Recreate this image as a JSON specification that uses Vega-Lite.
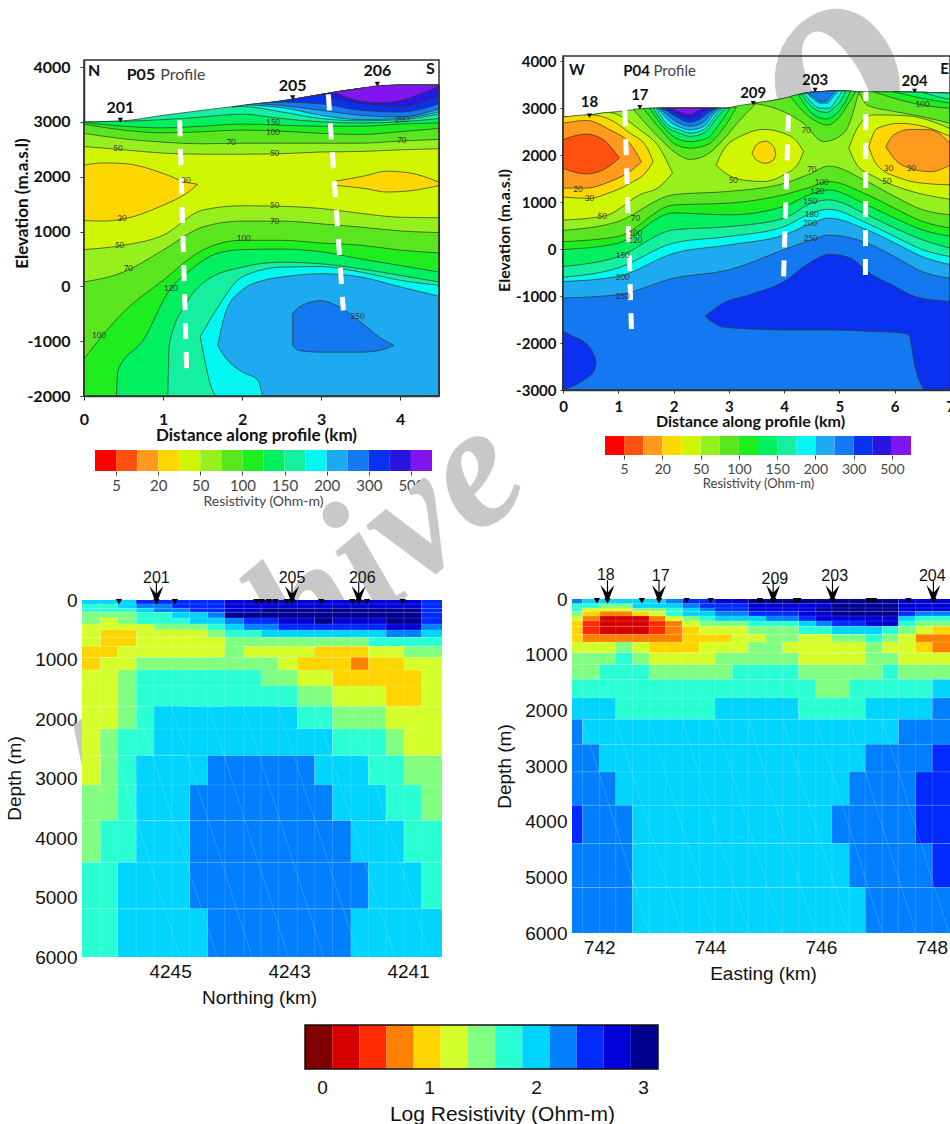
{"$schema":"https://vega.github.io/schema/vega-lite/v6.json","width":950,"height":1124,"autosize":{"type":"none"},"padding":0,"background":"white","config":{"view":{"stroke":null},"axis":{"grid":false,"zindex":1,"labelFlush":false,"labelOverlap":false}},
"datasets":{
"tl":[
{"s":1,"b":180,"x":0,"y":3000,"z":-2000},{"s":1,"b":180,"x":0.5,"y":3020,"z":-2000},{"s":1,"b":180,"x":1,"y":3120,"z":-2000},{"s":1,"b":180,"x":1.5,"y":3210,"z":-2000},{"s":1,"b":180,"x":2,"y":3300,"z":-2000},{"s":1,"b":180,"x":2.5,"y":3380,"z":-2000},{"s":1,"b":180,"x":3,"y":3500,"z":-2000},{"s":1,"b":180,"x":3.5,"y":3610,"z":-2000},{"s":1,"b":180,"x":4,"y":3670,"z":-2000},{"s":1,"b":180,"x":4.49,"y":3670,"z":-2000},
{"s":2,"b":200,"x":1.88,"y":3270,"z":3270},{"s":2,"b":200,"x":2,"y":3300,"z":3280},{"s":2,"b":200,"x":2.5,"y":3380,"z":3180},{"s":2,"b":200,"x":3,"y":3500,"z":3060},{"s":2,"b":200,"x":3.5,"y":3610,"z":3020},{"s":2,"b":200,"x":4,"y":3670,"z":3040},{"s":2,"b":200,"x":4.49,"y":3670,"z":3140},
{"s":3,"b":250,"x":2.05,"y":3310,"z":3310},{"s":3,"b":250,"x":2.5,"y":3380,"z":3260},{"s":3,"b":250,"x":3,"y":3500,"z":3120},{"s":3,"b":250,"x":3.5,"y":3610,"z":3040},{"s":3,"b":250,"x":4,"y":3670,"z":3060},{"s":3,"b":250,"x":4.49,"y":3670,"z":3180},
{"s":4,"b":300,"x":2.2,"y":3330,"z":3330},{"s":4,"b":300,"x":2.5,"y":3380,"z":3300},{"s":4,"b":300,"x":3,"y":3500,"z":3210},{"s":4,"b":300,"x":3.5,"y":3610,"z":3120},{"s":4,"b":300,"x":4,"y":3670,"z":3090},{"s":4,"b":300,"x":4.49,"y":3670,"z":3240},
{"s":5,"b":400,"x":2.4,"y":3360,"z":3360},{"s":5,"b":400,"x":2.5,"y":3380,"z":3360},{"s":5,"b":400,"x":3,"y":3500,"z":3330},{"s":5,"b":400,"x":3.5,"y":3610,"z":3210},{"s":5,"b":400,"x":4,"y":3670,"z":3180},{"s":5,"b":400,"x":4.49,"y":3670,"z":3330},
{"s":6,"b":500,"x":3,"y":3500,"z":3500},{"s":6,"b":500,"x":3.5,"y":3610,"z":3330},{"s":6,"b":500,"x":4,"y":3670,"z":3280},{"s":6,"b":500,"x":4.49,"y":3670,"z":3480},
{"s":7,"b":700,"x":3.15,"y":3540,"z":3540},{"s":7,"b":700,"x":3.5,"y":3610,"z":3380},{"s":7,"b":700,"x":3.75,"y":3665,"z":3350},{"s":7,"b":700,"x":4,"y":3670,"z":3390},{"s":7,"b":700,"x":4.25,"y":3670,"z":3510},{"s":7,"b":700,"x":4.49,"y":3670,"z":3650},
{"s":8,"b":150,"x":0,"y":3000,"z":-2000},{"s":8,"b":150,"x":0.5,"y":3010,"z":-2000},{"s":8,"b":150,"x":1,"y":3040,"z":-2000},{"s":8,"b":150,"x":1.5,"y":3090,"z":-2000},{"s":8,"b":150,"x":2,"y":3140,"z":-2000},{"s":8,"b":150,"x":2.5,"y":3060,"z":-2000},{"s":8,"b":150,"x":3,"y":3000,"z":-2000},{"s":8,"b":150,"x":3.5,"y":2980,"z":-2000},{"s":8,"b":150,"x":4,"y":3000,"z":-2000},{"s":8,"b":150,"x":4.49,"y":3060,"z":-2000},
{"s":9,"b":120,"x":0,"y":2990,"z":-2000},{"s":9,"b":120,"x":0.5,"y":2920,"z":-2000},{"s":9,"b":120,"x":1,"y":2890,"z":-2000},{"s":9,"b":120,"x":1.5,"y":2920,"z":-2000},{"s":9,"b":120,"x":2,"y":2960,"z":-2000},{"s":9,"b":120,"x":2.5,"y":2940,"z":-2000},{"s":9,"b":120,"x":3,"y":2920,"z":-2000},{"s":9,"b":120,"x":3.5,"y":2920,"z":-2000},{"s":9,"b":120,"x":4,"y":2960,"z":-2000},{"s":9,"b":120,"x":4.49,"y":2980,"z":-2000},
{"s":10,"b":100,"x":0,"y":2960,"z":-2000},{"s":10,"b":100,"x":0.5,"y":2850,"z":-2000},{"s":10,"b":100,"x":1,"y":2800,"z":-2000},{"s":10,"b":100,"x":1.5,"y":2820,"z":-2000},{"s":10,"b":100,"x":2,"y":2850,"z":-2000},{"s":10,"b":100,"x":2.5,"y":2830,"z":-2000},{"s":10,"b":100,"x":3,"y":2790,"z":-2000},{"s":10,"b":100,"x":3.5,"y":2770,"z":-2000},{"s":10,"b":100,"x":4,"y":2820,"z":-2000},{"s":10,"b":100,"x":4.49,"y":2880,"z":-2000},
{"s":11,"b":70,"x":0,"y":2790,"z":-2000},{"s":11,"b":70,"x":0.5,"y":2690,"z":-2000},{"s":11,"b":70,"x":1,"y":2630,"z":-2000},{"s":11,"b":70,"x":1.5,"y":2600,"z":-2000},{"s":11,"b":70,"x":2,"y":2610,"z":-2000},{"s":11,"b":70,"x":2.5,"y":2610,"z":-2000},{"s":11,"b":70,"x":3,"y":2610,"z":-2000},{"s":11,"b":70,"x":3.5,"y":2610,"z":-2000},{"s":11,"b":70,"x":4,"y":2650,"z":-2000},{"s":11,"b":70,"x":4.49,"y":2680,"z":-2000},
{"s":12,"b":50,"x":0,"y":2550,"z":-2000},{"s":12,"b":50,"x":0.5,"y":2490,"z":-2000},{"s":12,"b":50,"x":1,"y":2430,"z":-2000},{"s":12,"b":50,"x":1.5,"y":2410,"z":-2000},{"s":12,"b":50,"x":2,"y":2410,"z":-2000},{"s":12,"b":50,"x":2.5,"y":2420,"z":-2000},{"s":12,"b":50,"x":3,"y":2450,"z":-2000},{"s":12,"b":50,"x":3.5,"y":2460,"z":-2000},{"s":12,"b":50,"x":4,"y":2490,"z":-2000},{"s":12,"b":50,"x":4.49,"y":2510,"z":-2000},
{"s":13,"b":30,"x":0,"y":2210,"z":1200},{"s":13,"b":30,"x":0.24,"y":2250,"z":1190},{"s":13,"b":30,"x":0.5,"y":2240,"z":1230},{"s":13,"b":30,"x":1,"y":2060,"z":1480},{"s":13,"b":30,"x":1.29,"y":1900,"z":1690},{"s":13,"b":30,"x":1.44,"y":1860,"z":1860},
{"s":14,"b":30,"x":3.19,"y":1920,"z":1840},{"s":14,"b":30,"x":3.57,"y":2020,"z":1780},{"s":14,"b":30,"x":3.82,"y":2100,"z":1720},{"s":14,"b":30,"x":4.11,"y":2070,"z":1740},{"s":14,"b":30,"x":4.49,"y":1900,"z":1840},
{"s":15,"b":70,"x":0,"y":670,"z":-2000},{"s":15,"b":70,"x":0.5,"y":750,"z":-2000},{"s":15,"b":70,"x":1,"y":930,"z":-2000},{"s":15,"b":70,"x":1.5,"y":1390,"z":-2000},{"s":15,"b":70,"x":2,"y":1470,"z":-2000},{"s":15,"b":70,"x":2.5,"y":1460,"z":-2000},{"s":15,"b":70,"x":3,"y":1420,"z":-2000},{"s":15,"b":70,"x":3.5,"y":1330,"z":-2000},{"s":15,"b":70,"x":4,"y":1260,"z":-2000},{"s":15,"b":70,"x":4.49,"y":1250,"z":-2000},
{"s":16,"b":100,"x":0,"y":80,"z":-2000},{"s":16,"b":100,"x":0.5,"y":260,"z":-2000},{"s":16,"b":100,"x":1,"y":660,"z":-2000},{"s":16,"b":100,"x":1.5,"y":1080,"z":-2000},{"s":16,"b":100,"x":2,"y":1190,"z":-2000},{"s":16,"b":100,"x":2.5,"y":1190,"z":-2000},{"s":16,"b":100,"x":3,"y":1140,"z":-2000},{"s":16,"b":100,"x":3.5,"y":1080,"z":-2000},{"s":16,"b":100,"x":4,"y":1010,"z":-2000},{"s":16,"b":100,"x":4.49,"y":980,"z":-2000},
{"s":17,"b":120,"x":0,"y":-1320,"z":-2000},{"s":17,"b":120,"x":0.5,"y":-470,"z":-2000},{"s":17,"b":120,"x":1,"y":110,"z":-2000},{"s":17,"b":120,"x":1.5,"y":660,"z":-2000},{"s":17,"b":120,"x":2,"y":840,"z":-2000},{"s":17,"b":120,"x":2.5,"y":840,"z":-2000},{"s":17,"b":120,"x":3,"y":790,"z":-2000},{"s":17,"b":120,"x":3.5,"y":750,"z":-2000},{"s":17,"b":120,"x":4,"y":660,"z":-2000},{"s":17,"b":120,"x":4.49,"y":610,"z":-2000},
{"s":18,"b":150,"x":0.41,"y":-2000,"z":-2000},{"s":18,"b":150,"x":0.43,"y":-1530,"z":-2000},{"s":18,"b":150,"x":0.75,"y":-980,"z":-2000},{"s":18,"b":150,"x":1.08,"y":-70,"z":-2000},{"s":18,"b":150,"x":1.34,"y":290,"z":-2000},{"s":18,"b":150,"x":1.68,"y":600,"z":-2000},{"s":18,"b":150,"x":2,"y":670,"z":-2000},{"s":18,"b":150,"x":2.5,"y":680,"z":-2000},{"s":18,"b":150,"x":3,"y":630,"z":-2000},{"s":18,"b":150,"x":3.5,"y":500,"z":-2000},{"s":18,"b":150,"x":4,"y":380,"z":-2000},{"s":18,"b":150,"x":4.49,"y":260,"z":-2000},
{"s":19,"b":180,"x":1.06,"y":-2000,"z":-2000},{"s":19,"b":180,"x":1.08,"y":-1050,"z":-2000},{"s":19,"b":180,"x":1.29,"y":-320,"z":-2000},{"s":19,"b":180,"x":1.55,"y":110,"z":-2000},{"s":19,"b":180,"x":2,"y":350,"z":-2000},{"s":19,"b":180,"x":2.5,"y":440,"z":-2000},{"s":19,"b":180,"x":3,"y":410,"z":-2000},{"s":19,"b":180,"x":3.5,"y":320,"z":-2000},{"s":19,"b":180,"x":4,"y":200,"z":-2000},{"s":19,"b":180,"x":4.49,"y":80,"z":-2000},
{"s":20,"b":200,"x":1.47,"y":-920,"z":-920},{"s":20,"b":200,"x":1.68,"y":-410,"z":-2000},{"s":20,"b":200,"x":2,"y":170,"z":-2000},{"s":20,"b":200,"x":2.5,"y":350,"z":-2000},{"s":20,"b":200,"x":3,"y":360,"z":-2000},{"s":20,"b":200,"x":3.5,"y":260,"z":-2000},{"s":20,"b":200,"x":4,"y":110,"z":-2000},{"s":20,"b":200,"x":4.49,"y":20,"z":-2000},
{"s":21,"b":250,"x":1.69,"y":-1080,"z":-1080},{"s":21,"b":250,"x":1.8,"y":-440,"z":-1320},{"s":21,"b":250,"x":2,"y":-70,"z":-1560},{"s":21,"b":250,"x":2.2,"y":80,"z":-1710},{"s":21,"b":250,"x":2.27,"y":110,"z":-2000},{"s":21,"b":250,"x":2.5,"y":170,"z":-2000},{"s":21,"b":250,"x":3,"y":230,"z":-2000},{"s":21,"b":250,"x":3.5,"y":170,"z":-2000},{"s":21,"b":250,"x":4,"y":-10,"z":-2000},{"s":21,"b":250,"x":4.49,"y":-180,"z":-2000},
{"s":22,"b":300,"x":2.64,"y":-500,"z":-1080},{"s":22,"b":300,"x":2.72,"y":-380,"z":-1170},{"s":22,"b":300,"x":3,"y":-260,"z":-1200},{"s":22,"b":300,"x":3.15,"y":-320,"z":-1200},{"s":22,"b":300,"x":3.5,"y":-650,"z":-1200},{"s":22,"b":300,"x":3.73,"y":-920,"z":-1170},{"s":22,"b":300,"x":3.92,"y":-1080,"z":-1080}
],
"tr":[
{"s":1,"b":70,"x":0,"y":2810,"z":-3000},{"s":1,"b":70,"x":0.48,"y":2860,"z":-3000},{"s":1,"b":70,"x":0.81,"y":2910,"z":-3000},{"s":1,"b":70,"x":0.99,"y":2930,"z":-3000},{"s":1,"b":70,"x":1.39,"y":2980,"z":-3000},{"s":1,"b":70,"x":1.99,"y":3000,"z":-3000},{"s":1,"b":70,"x":2.98,"y":3000,"z":-3000},{"s":1,"b":70,"x":3.5,"y":3110,"z":-3000},{"s":1,"b":70,"x":3.99,"y":3210,"z":-3000},{"s":1,"b":70,"x":4.41,"y":3330,"z":-3000},{"s":1,"b":70,"x":4.98,"y":3370,"z":-3000},{"s":1,"b":70,"x":5.5,"y":3350,"z":-3000},{"s":1,"b":70,"x":6,"y":3350,"z":-3000},{"s":1,"b":70,"x":7,"y":3320,"z":-3000},
{"s":2,"b":100,"x":0,"y":400,"z":-3000},{"s":2,"b":100,"x":1,"y":590,"z":-3000},{"s":2,"b":100,"x":2,"y":1160,"z":-3000},{"s":2,"b":100,"x":3,"y":1230,"z":-3000},{"s":2,"b":100,"x":4,"y":1400,"z":-3000},{"s":2,"b":100,"x":4.5,"y":1620,"z":-3000},{"s":2,"b":100,"x":4.8,"y":1770,"z":-3000},{"s":2,"b":100,"x":5.5,"y":1440,"z":-3000},{"s":2,"b":100,"x":6,"y":1120,"z":-3000},{"s":2,"b":100,"x":6.5,"y":840,"z":-3000},{"s":2,"b":100,"x":7,"y":730,"z":-3000},
{"s":3,"b":120,"x":0,"y":160,"z":-3000},{"s":3,"b":120,"x":1,"y":270,"z":-3000},{"s":3,"b":120,"x":2,"y":940,"z":-3000},{"s":3,"b":120,"x":3,"y":980,"z":-3000},{"s":3,"b":120,"x":4,"y":1160,"z":-3000},{"s":3,"b":120,"x":4.5,"y":1330,"z":-3000},{"s":3,"b":120,"x":4.8,"y":1440,"z":-3000},{"s":3,"b":120,"x":5.5,"y":1160,"z":-3000},{"s":3,"b":120,"x":6,"y":870,"z":-3000},{"s":3,"b":120,"x":6.5,"y":590,"z":-3000},{"s":3,"b":120,"x":7,"y":450,"z":-3000},
{"s":4,"b":150,"x":0,"y":-10,"z":-3000},{"s":4,"b":150,"x":1,"y":130,"z":-3000},{"s":4,"b":150,"x":2,"y":770,"z":-3000},{"s":4,"b":150,"x":3,"y":730,"z":-3000},{"s":4,"b":150,"x":4,"y":910,"z":-3000},{"s":4,"b":150,"x":4.5,"y":1180,"z":-3000},{"s":4,"b":150,"x":4.8,"y":1260,"z":-3000},{"s":4,"b":150,"x":5.5,"y":940,"z":-3000},{"s":4,"b":150,"x":6,"y":660,"z":-3000},{"s":4,"b":150,"x":6.5,"y":410,"z":-3000},{"s":4,"b":150,"x":7,"y":270,"z":-3000},
{"s":5,"b":180,"x":0,"y":-370,"z":-3000},{"s":5,"b":180,"x":1,"y":-160,"z":-3000},{"s":5,"b":180,"x":2,"y":410,"z":-3000},{"s":5,"b":180,"x":3,"y":480,"z":-3000},{"s":5,"b":180,"x":4,"y":660,"z":-3000},{"s":5,"b":180,"x":4.5,"y":980,"z":-3000},{"s":5,"b":180,"x":4.8,"y":1050,"z":-3000},{"s":5,"b":180,"x":5.5,"y":730,"z":-3000},{"s":5,"b":180,"x":6,"y":450,"z":-3000},{"s":5,"b":180,"x":6.5,"y":200,"z":-3000},{"s":5,"b":180,"x":7,"y":20,"z":-3000},
{"s":6,"b":200,"x":0,"y":-600,"z":-3000},{"s":6,"b":200,"x":1,"y":-400,"z":-3000},{"s":6,"b":200,"x":2,"y":130,"z":-3000},{"s":6,"b":200,"x":3,"y":270,"z":-3000},{"s":6,"b":200,"x":4,"y":480,"z":-3000},{"s":6,"b":200,"x":4.5,"y":770,"z":-3000},{"s":6,"b":200,"x":4.8,"y":850,"z":-3000},{"s":6,"b":200,"x":5.5,"y":550,"z":-3000},{"s":6,"b":200,"x":6,"y":270,"z":-3000},{"s":6,"b":200,"x":6.5,"y":-10,"z":-3000},{"s":6,"b":200,"x":7,"y":-160,"z":-3000},
{"s":7,"b":250,"x":0,"y":-690,"z":-3000},{"s":7,"b":250,"x":1,"y":-580,"z":-3000},{"s":7,"b":250,"x":2,"y":-90,"z":-3000},{"s":7,"b":250,"x":3,"y":90,"z":-3000},{"s":7,"b":250,"x":4,"y":300,"z":-3000},{"s":7,"b":250,"x":4.5,"y":550,"z":-3000},{"s":7,"b":250,"x":4.8,"y":660,"z":-3000},{"s":7,"b":250,"x":5.5,"y":410,"z":-3000},{"s":7,"b":250,"x":6,"y":130,"z":-3000},{"s":7,"b":250,"x":6.5,"y":-160,"z":-3000},{"s":7,"b":250,"x":7,"y":-330,"z":-3000},
{"s":8,"b":300,"x":0,"y":-1040,"z":-3000},{"s":8,"b":300,"x":1,"y":-970,"z":-3000},{"s":8,"b":300,"x":2,"y":-620,"z":-3000},{"s":8,"b":300,"x":3,"y":-440,"z":-3000},{"s":8,"b":300,"x":4,"y":-10,"z":-3000},{"s":8,"b":300,"x":4.5,"y":200,"z":-3000},{"s":8,"b":300,"x":4.8,"y":300,"z":-3000},{"s":8,"b":300,"x":5.5,"y":130,"z":-3000},{"s":8,"b":300,"x":6,"y":-160,"z":-3000},{"s":8,"b":300,"x":6.5,"y":-480,"z":-3000},{"s":8,"b":300,"x":7,"y":-620,"z":-3000},
{"s":9,"b":400,"x":2.57,"y":-1430,"z":-1430},{"s":9,"b":400,"x":2.9,"y":-1150,"z":-1660},{"s":9,"b":400,"x":3.38,"y":-970,"z":-1700},{"s":9,"b":400,"x":4,"y":-690,"z":-1720},{"s":9,"b":400,"x":4.5,"y":-260,"z":-1720},{"s":9,"b":400,"x":4.83,"y":-110,"z":-1720},{"s":9,"b":400,"x":5.2,"y":-190,"z":-1730},{"s":9,"b":400,"x":5.5,"y":-480,"z":-1750},{"s":9,"b":400,"x":6,"y":-790,"z":-1770},{"s":9,"b":400,"x":6.25,"y":-950,"z":-1820},{"s":9,"b":400,"x":6.37,"y":-1010,"z":-2500},{"s":9,"b":400,"x":6.56,"y":-1060,"z":-3000},{"s":9,"b":400,"x":7,"y":-1110,"z":-3000},
{"s":10,"b":400,"x":0,"y":-1750,"z":-3000},{"s":10,"b":400,"x":0.18,"y":-1860,"z":-2920},{"s":10,"b":400,"x":0.36,"y":-1960,"z":-2800},{"s":10,"b":400,"x":0.57,"y":-2280,"z":-2570},{"s":10,"b":400,"x":0.6,"y":-2420,"z":-2420},
{"s":11,"b":100,"x":1.27,"y":2980,"z":2980},{"s":11,"b":100,"x":1.69,"y":3000,"z":2430},{"s":11,"b":100,"x":2.05,"y":3000,"z":2040},{"s":11,"b":100,"x":2.3,"y":3000,"z":1910},{"s":11,"b":100,"x":2.6,"y":3000,"z":2010},{"s":11,"b":100,"x":2.9,"y":3000,"z":2330},{"s":11,"b":100,"x":3.2,"y":3060,"z":2750},{"s":11,"b":100,"x":3.5,"y":3110,"z":3110},
{"s":12,"b":120,"x":1.45,"y":3000,"z":3000},{"s":12,"b":120,"x":1.75,"y":3000,"z":2570},{"s":12,"b":120,"x":2.05,"y":3000,"z":2220},{"s":12,"b":120,"x":2.3,"y":3000,"z":2150},{"s":12,"b":120,"x":2.6,"y":3000,"z":2220},{"s":12,"b":120,"x":2.9,"y":3000,"z":2570},{"s":12,"b":120,"x":3.14,"y":3030,"z":3030},
{"s":13,"b":150,"x":1.57,"y":3000,"z":3000},{"s":13,"b":150,"x":1.81,"y":3000,"z":2610},{"s":13,"b":150,"x":2.05,"y":3000,"z":2360},{"s":13,"b":150,"x":2.3,"y":3000,"z":2290},{"s":13,"b":150,"x":2.6,"y":3000,"z":2360},{"s":13,"b":150,"x":2.84,"y":3000,"z":2680},{"s":13,"b":150,"x":3.02,"y":3000,"z":3000},
{"s":14,"b":180,"x":1.63,"y":3000,"z":3000},{"s":14,"b":180,"x":1.87,"y":3000,"z":2610},{"s":14,"b":180,"x":2.11,"y":3000,"z":2470},{"s":14,"b":180,"x":2.3,"y":3000,"z":2400},{"s":14,"b":180,"x":2.54,"y":3000,"z":2470},{"s":14,"b":180,"x":2.78,"y":3000,"z":2790},{"s":14,"b":180,"x":2.93,"y":3000,"z":3000},
{"s":15,"b":200,"x":1.69,"y":3000,"z":3000},{"s":15,"b":200,"x":1.9,"y":3000,"z":2640},{"s":15,"b":200,"x":2.11,"y":3000,"z":2540},{"s":15,"b":200,"x":2.3,"y":3000,"z":2470},{"s":15,"b":200,"x":2.54,"y":3000,"z":2540},{"s":15,"b":200,"x":2.75,"y":3000,"z":2820},{"s":15,"b":200,"x":2.87,"y":3000,"z":3000},
{"s":16,"b":250,"x":1.72,"y":3000,"z":3000},{"s":16,"b":250,"x":1.93,"y":3000,"z":2720},{"s":16,"b":250,"x":2.11,"y":3000,"z":2600},{"s":16,"b":250,"x":2.3,"y":3000,"z":2540},{"s":16,"b":250,"x":2.54,"y":3000,"z":2610},{"s":16,"b":250,"x":2.72,"y":3000,"z":2860},{"s":16,"b":250,"x":2.84,"y":3000,"z":3000},
{"s":17,"b":300,"x":1.75,"y":3000,"z":3000},{"s":17,"b":300,"x":1.96,"y":3000,"z":2790},{"s":17,"b":300,"x":2.11,"y":3000,"z":2680},{"s":17,"b":300,"x":2.3,"y":3000,"z":2620},{"s":17,"b":300,"x":2.51,"y":3000,"z":2680},{"s":17,"b":300,"x":2.69,"y":3000,"z":2890},{"s":17,"b":300,"x":2.81,"y":3000,"z":3000},
{"s":18,"b":400,"x":1.78,"y":3000,"z":3000},{"s":18,"b":400,"x":1.99,"y":3000,"z":2860},{"s":18,"b":400,"x":2.15,"y":3000,"z":2750},{"s":18,"b":400,"x":2.3,"y":3000,"z":2700},{"s":18,"b":400,"x":2.48,"y":3000,"z":2770},{"s":18,"b":400,"x":2.66,"y":3000,"z":2930},{"s":18,"b":400,"x":2.78,"y":3000,"z":3000},
{"s":19,"b":500,"x":1.87,"y":3000,"z":3000},{"s":19,"b":500,"x":2.05,"y":3000,"z":2880},{"s":19,"b":500,"x":2.3,"y":3000,"z":2790},{"s":19,"b":500,"x":2.45,"y":3000,"z":2840},{"s":19,"b":500,"x":2.6,"y":3000,"z":2960},{"s":19,"b":500,"x":2.72,"y":3000,"z":3000},
{"s":20,"b":700,"x":1.96,"y":3000,"z":3000},{"s":20,"b":700,"x":2.08,"y":3000,"z":2930},{"s":20,"b":700,"x":2.3,"y":3000,"z":2860},{"s":20,"b":700,"x":2.42,"y":3000,"z":2930},{"s":20,"b":700,"x":2.54,"y":3000,"z":3000},
{"s":21,"b":100,"x":3.44,"y":3110,"z":3110},{"s":21,"b":100,"x":3.99,"y":3210,"z":2930},{"s":21,"b":100,"x":4.35,"y":3320,"z":2680},{"s":21,"b":100,"x":4.71,"y":3360,"z":2290},{"s":21,"b":100,"x":5.08,"y":3370,"z":2470},{"s":21,"b":100,"x":5.35,"y":3350,"z":3350},
{"s":22,"b":120,"x":4.11,"y":3250,"z":3250},{"s":22,"b":120,"x":4.41,"y":3330,"z":2860},{"s":22,"b":120,"x":4.65,"y":3350,"z":2680},{"s":22,"b":120,"x":4.77,"y":3360,"z":2640},{"s":22,"b":120,"x":4.95,"y":3370,"z":2750},{"s":22,"b":120,"x":5.17,"y":3370,"z":3110},{"s":22,"b":120,"x":5.29,"y":3350,"z":3350},
{"s":23,"b":150,"x":4.26,"y":3280,"z":3280},{"s":23,"b":150,"x":4.47,"y":3340,"z":2930},{"s":23,"b":150,"x":4.65,"y":3350,"z":2790},{"s":23,"b":150,"x":4.77,"y":3360,"z":2770},{"s":23,"b":150,"x":4.92,"y":3370,"z":2860},{"s":23,"b":150,"x":5.11,"y":3370,"z":3140},{"s":23,"b":150,"x":5.2,"y":3360,"z":3360},
{"s":24,"b":180,"x":4.32,"y":3300,"z":3300},{"s":24,"b":180,"x":4.5,"y":3340,"z":3030},{"s":24,"b":180,"x":4.65,"y":3350,"z":2930},{"s":24,"b":180,"x":4.77,"y":3360,"z":2910},{"s":24,"b":180,"x":4.89,"y":3370,"z":3000},{"s":24,"b":180,"x":5.05,"y":3370,"z":3210},{"s":24,"b":180,"x":5.11,"y":3370,"z":3370},
{"s":25,"b":200,"x":4.36,"y":3320,"z":3320},{"s":25,"b":200,"x":4.5,"y":3340,"z":3110},{"s":25,"b":200,"x":4.65,"y":3350,"z":3000},{"s":25,"b":200,"x":4.8,"y":3360,"z":3000},{"s":25,"b":200,"x":4.95,"y":3370,"z":3180},{"s":25,"b":200,"x":5.05,"y":3370,"z":3370},
{"s":26,"b":250,"x":4.4,"y":3330,"z":3330},{"s":26,"b":250,"x":4.52,"y":3340,"z":3210},{"s":26,"b":250,"x":4.65,"y":3350,"z":3110},{"s":26,"b":250,"x":4.77,"y":3360,"z":3110},{"s":26,"b":250,"x":4.89,"y":3370,"z":3250},{"s":26,"b":250,"x":4.98,"y":3370,"z":3370},
{"s":27,"b":300,"x":4.41,"y":3330,"z":3330},{"s":27,"b":300,"x":4.53,"y":3340,"z":3250},{"s":27,"b":300,"x":4.65,"y":3350,"z":3150},{"s":27,"b":300,"x":4.74,"y":3360,"z":3150},{"s":27,"b":300,"x":4.86,"y":3370,"z":3280},{"s":27,"b":300,"x":4.92,"y":3370,"z":3370},
{"s":28,"b":100,"x":5.35,"y":3350,"z":3350},{"s":28,"b":100,"x":5.5,"y":3350,"z":3070},{"s":28,"b":100,"x":6,"y":3350,"z":2930},{"s":28,"b":100,"x":6.5,"y":3340,"z":2820},{"s":28,"b":100,"x":7,"y":3320,"z":2680},
{"s":29,"b":120,"x":5.62,"y":3350,"z":3350},{"s":29,"b":120,"x":6,"y":3350,"z":3210},{"s":29,"b":120,"x":6.5,"y":3340,"z":3070},{"s":29,"b":120,"x":7,"y":3320,"z":3000},
{"s":30,"b":150,"x":5.98,"y":3350,"z":3350},{"s":30,"b":150,"x":6.5,"y":3340,"z":3210},{"s":30,"b":150,"x":7,"y":3320,"z":3110},
{"s":31,"b":180,"x":6.5,"y":3340,"z":3340},{"s":31,"b":180,"x":6.77,"y":3330,"z":3250},{"s":31,"b":180,"x":7,"y":3320,"z":3190},
{"s":32,"b":50,"x":0,"y":2810,"z":620},{"s":32,"b":50,"x":0.48,"y":2860,"z":660},{"s":32,"b":50,"x":0.82,"y":2910,"z":730},{"s":32,"b":50,"x":1.39,"y":2540,"z":1160},{"s":32,"b":50,"x":1.75,"y":2150,"z":1330},{"s":32,"b":50,"x":1.98,"y":1620,"z":1620},
{"s":33,"b":30,"x":0,"y":2810,"z":1110},{"s":33,"b":30,"x":0.48,"y":2860,"z":1080},{"s":33,"b":30,"x":0.79,"y":2790,"z":1180},{"s":33,"b":30,"x":1.21,"y":2470,"z":1400},{"s":33,"b":30,"x":1.51,"y":2180,"z":1650},{"s":33,"b":30,"x":1.63,"y":1860,"z":1860},
{"s":34,"b":20,"x":0,"y":2680,"z":1300},{"s":34,"b":20,"x":0.42,"y":2740,"z":1300},{"s":34,"b":20,"x":0.85,"y":2540,"z":1440},{"s":34,"b":20,"x":1.21,"y":2250,"z":1650},{"s":34,"b":20,"x":1.42,"y":1860,"z":1860},
{"s":35,"b":10,"x":0,"y":2330,"z":1720},{"s":35,"b":10,"x":0.42,"y":2450,"z":1600},{"s":35,"b":10,"x":0.73,"y":2330,"z":1690},{"s":35,"b":10,"x":1.02,"y":1940,"z":1940},
{"s":36,"b":50,"x":2.77,"y":1790,"z":1790},{"s":36,"b":50,"x":2.9,"y":2110,"z":1650},{"s":36,"b":50,"x":3.26,"y":2430,"z":1470},{"s":36,"b":50,"x":3.63,"y":2550,"z":1440},{"s":36,"b":50,"x":3.99,"y":2470,"z":1580},{"s":36,"b":50,"x":4.26,"y":2250,"z":1830},{"s":36,"b":50,"x":4.35,"y":2080,"z":2080},
{"s":37,"b":30,"x":3.42,"y":2040,"z":2040},{"s":37,"b":30,"x":3.5,"y":2220,"z":1900},{"s":37,"b":30,"x":3.66,"y":2300,"z":1830},{"s":37,"b":30,"x":3.81,"y":2180,"z":1900},{"s":37,"b":30,"x":3.85,"y":2010,"z":2010},
{"s":38,"b":50,"x":5.17,"y":2150,"z":2150},{"s":38,"b":50,"x":5.32,"y":2570,"z":1790},{"s":38,"b":50,"x":5.62,"y":2860,"z":1550},{"s":38,"b":50,"x":6.22,"y":2840,"z":1260},{"s":38,"b":50,"x":7,"y":2570,"z":1060},
{"s":39,"b":30,"x":5.53,"y":2180,"z":2180},{"s":39,"b":30,"x":5.68,"y":2570,"z":1790},{"s":39,"b":30,"x":6.1,"y":2680,"z":1510},{"s":39,"b":30,"x":6.53,"y":2610,"z":1400},{"s":39,"b":30,"x":7,"y":2400,"z":1370},
{"s":40,"b":20,"x":5.84,"y":2180,"z":2180},{"s":40,"b":20,"x":5.98,"y":2430,"z":1940},{"s":40,"b":20,"x":6.28,"y":2550,"z":1720},{"s":40,"b":20,"x":6.65,"y":2540,"z":1650},{"s":40,"b":20,"x":7,"y":2250,"z":1790}
],
"tlDash":[{"s":1,"x":1.21,"y":3030},{"s":1,"x":1.3,"y":-1590},{"s":2,"x":3.09,"y":3500},{"s":2,"x":3.28,"y":-440}],
"trDash":[{"s":1,"x":1.12,"y":2960},{"s":1,"x":1.24,"y":-1790},{"s":2,"x":4.08,"y":2930},{"s":2,"x":3.99,"y":-580},{"s":3,"x":5.48,"y":3350},{"s":3,"x":5.47,"y":-550}],
"tlBold":[{"x":0.46,"y":3260,"t":"201"},{"x":2.64,"y":3650,"t":"205"},{"x":3.71,"y":3930,"t":"206"},{"x":0.13,"y":3920,"t":"N"},{"x":4.38,"y":3960,"t":"S"},{"x":0.72,"y":3860,"t":"P05"}],
"trBold":[{"x":0.48,"y":3130,"t":"18"},{"x":1.39,"y":3280,"t":"17"},{"x":3.44,"y":3320,"t":"209"},{"x":4.56,"y":3600,"t":"203"},{"x":6.36,"y":3580,"t":"204"},{"x":0.25,"y":3810,"t":"W"},{"x":6.9,"y":3830,"t":"E"},{"x":1.33,"y":3800,"t":"P04"}],
"tlProf":[{"x":1.25,"y":3860,"t":"Profile"}],
"trProf":[{"x":2.02,"y":3800,"t":"Profile"}],
"tlTri":[{"x":0.46,"y":3030},{"x":2.64,"y":3440},{"x":3.71,"y":3690}],
"trTri":[{"x":0.48,"y":2840},{"x":1.39,"y":3020},{"x":3.44,"y":3110},{"x":4.56,"y":3390},{"x":6.36,"y":3370}],
"tlLab":[{"x":0.43,"y":2510,"t":"50"},{"x":2.41,"y":2420,"t":"50"},{"x":1.86,"y":2620,"t":"70"},{"x":4.02,"y":2650,"t":"70"},{"x":1.29,"y":1930,"t":"30"},{"x":0.48,"y":1220,"t":"30"},{"x":0.45,"y":730,"t":"50"},{"x":2.41,"y":1460,"t":"50"},{"x":2.41,"y":1180,"t":"70"},{"x":0.56,"y":310,"t":"70"},{"x":2.02,"y":860,"t":"100"},{"x":1.1,"y":-40,"t":"120"},{"x":0.19,"y":-910,"t":"100"},{"x":3.46,"y":-560,"t":"250"},{"x":2.39,"y":2980,"t":"150"},{"x":2.39,"y":2800,"t":"100"},{"x":4.02,"y":3040,"t":"200"}],
"trLab":[{"x":0.27,"y":1260,"t":"20"},{"x":0.48,"y":1070,"t":"30"},{"x":0.71,"y":690,"t":"50"},{"x":1.31,"y":650,"t":"70"},{"x":1.31,"y":320,"t":"100"},{"x":1.31,"y":180,"t":"120"},{"x":1.08,"y":-140,"t":"150"},{"x":1.08,"y":-620,"t":"200"},{"x":1.08,"y":-1030,"t":"250"},{"x":3.08,"y":1450,"t":"50"},{"x":4.5,"y":1690,"t":"70"},{"x":4.68,"y":1400,"t":"100"},{"x":4.6,"y":1210,"t":"120"},{"x":4.47,"y":1010,"t":"150"},{"x":4.5,"y":730,"t":"180"},{"x":4.47,"y":540,"t":"200"},{"x":4.48,"y":220,"t":"250"},{"x":5.86,"y":1420,"t":"50"},{"x":5.89,"y":1700,"t":"30"},{"x":6.3,"y":1700,"t":"30"},{"x":4.4,"y":2520,"t":"70"},{"x":6.5,"y":3070,"t":"100"}],
"bar":[{"x":0,"x2":1,"b":5},{"x":1,"x2":2,"b":10},{"x":2,"x2":3,"b":20},{"x":3,"x2":4,"b":30},{"x":4,"x2":5,"b":50},{"x":5,"x2":6,"b":70},{"x":6,"x2":7,"b":100},{"x":7,"x2":8,"b":120},{"x":8,"x2":9,"b":150},{"x":9,"x2":10,"b":180},{"x":10,"x2":11,"b":200},{"x":11,"x2":12,"b":250},{"x":12,"x2":13,"b":300},{"x":13,"x2":14,"b":400},{"x":14,"x2":15,"b":500},{"x":15,"x2":16,"b":700}],
"logBar":[{"x":-0.16,"x2":0.094,"v":-0.03},{"x":0.094,"x2":0.348,"v":0.22},{"x":0.348,"x2":0.602,"v":0.47},{"x":0.602,"x2":0.855,"v":0.73},{"x":0.855,"x2":1.109,"v":0.98},{"x":1.109,"x2":1.363,"v":1.24},{"x":1.363,"x2":1.617,"v":1.49},{"x":1.617,"x2":1.871,"v":1.74},{"x":1.871,"x2":2.125,"v":2},{"x":2.125,"x2":2.379,"v":2.25},{"x":2.379,"x2":2.632,"v":2.5},{"x":2.632,"x2":2.886,"v":2.76},{"x":2.886,"x2":3.14,"v":3.01}],
"bl":[
{"x":4246.48,"x2":4245.57,"y":0,"y2":67,"v":2},{"x":4245.57,"x2":4244.08,"y":0,"y2":67,"v":2.5},{"x":4244.08,"x2":4240.77,"y":0,"y2":67,"v":2.76},{"x":4240.77,"x2":4240.43,"y":0,"y2":67,"v":2.5},
{"x":4246.48,"x2":4245.88,"y":67,"y2":140,"v":1.74},{"x":4245.88,"x2":4245.57,"y":67,"y2":140,"v":2},{"x":4245.57,"x2":4244.97,"y":67,"y2":140,"v":2.25},{"x":4244.97,"x2":4244.08,"y":67,"y2":140,"v":2.5},{"x":4244.08,"x2":4240.77,"y":67,"y2":140,"v":2.76},{"x":4240.77,"x2":4240.43,"y":67,"y2":140,"v":2.5},
{"x":4246.48,"x2":4245.57,"y":140,"y2":207,"v":1.74},{"x":4245.57,"x2":4245.27,"y":140,"y2":207,"v":2},{"x":4245.27,"x2":4244.67,"y":140,"y2":207,"v":2.25},{"x":4244.67,"x2":4244.08,"y":140,"y2":207,"v":2.5},{"x":4244.08,"x2":4243.47,"y":140,"y2":207,"v":2.76},{"x":4243.47,"x2":4240.77,"y":140,"y2":207,"v":3.01},{"x":4240.77,"x2":4240.43,"y":140,"y2":207,"v":2.5},
{"x":4246.48,"x2":4245.57,"y":207,"y2":302,"v":1.49},{"x":4245.57,"x2":4244.97,"y":207,"y2":302,"v":1.74},{"x":4244.97,"x2":4244.37,"y":207,"y2":302,"v":2},{"x":4244.37,"x2":4244.08,"y":207,"y2":302,"v":2.25},{"x":4244.08,"x2":4240.77,"y":207,"y2":302,"v":3.01},{"x":4240.77,"x2":4240.43,"y":207,"y2":302,"v":2.5},
{"x":4246.48,"x2":4246.17,"y":302,"y2":403,"v":1.49},{"x":4246.17,"x2":4245.88,"y":302,"y2":403,"v":1.24},{"x":4245.88,"x2":4245.57,"y":302,"y2":403,"v":1.49},{"x":4245.57,"x2":4244.67,"y":302,"y2":403,"v":1.74},{"x":4244.67,"x2":4244.08,"y":302,"y2":403,"v":2},{"x":4244.08,"x2":4243.76,"y":302,"y2":403,"v":2.25},{"x":4243.76,"x2":4243.18,"y":302,"y2":403,"v":2.5},{"x":4243.18,"x2":4242.57,"y":302,"y2":403,"v":2.76},{"x":4242.57,"x2":4242.27,"y":302,"y2":403,"v":3.01},{"x":4242.27,"x2":4241.37,"y":302,"y2":403,"v":2.76},{"x":4241.37,"x2":4240.77,"y":302,"y2":403,"v":3.01},{"x":4240.77,"x2":4240.43,"y":302,"y2":403,"v":2.5},
{"x":4246.48,"x2":4245.27,"y":403,"y2":504,"v":1.24},{"x":4245.27,"x2":4244.37,"y":403,"y2":504,"v":1.49},{"x":4244.37,"x2":4244.08,"y":403,"y2":504,"v":1.74},{"x":4244.08,"x2":4243.76,"y":403,"y2":504,"v":2},{"x":4243.76,"x2":4243.18,"y":403,"y2":504,"v":2.25},{"x":4243.18,"x2":4241.37,"y":403,"y2":504,"v":2.5},{"x":4241.37,"x2":4240.77,"y":403,"y2":504,"v":2.76},{"x":4240.77,"x2":4240.43,"y":403,"y2":504,"v":2.25},
{"x":4246.48,"x2":4246.17,"y":504,"y2":627,"v":1.24},{"x":4246.17,"x2":4245.57,"y":504,"y2":627,"v":0.98},{"x":4245.57,"x2":4244.37,"y":504,"y2":627,"v":1.24},{"x":4244.37,"x2":4244.08,"y":504,"y2":627,"v":1.49},{"x":4244.08,"x2":4243.47,"y":504,"y2":627,"v":1.74},{"x":4243.47,"x2":4241.37,"y":504,"y2":627,"v":2},{"x":4241.37,"x2":4240.77,"y":504,"y2":627,"v":2.25},{"x":4240.77,"x2":4240.43,"y":504,"y2":627,"v":2},
{"x":4246.48,"x2":4246.17,"y":627,"y2":778,"v":1.24},{"x":4246.17,"x2":4245.57,"y":627,"y2":778,"v":0.98},{"x":4245.57,"x2":4244.08,"y":627,"y2":778,"v":1.24},{"x":4244.08,"x2":4241.67,"y":627,"y2":778,"v":1.49},{"x":4241.67,"x2":4240.43,"y":627,"y2":778,"v":1.74},
{"x":4246.48,"x2":4245.88,"y":778,"y2":963,"v":0.98},{"x":4245.88,"x2":4244.08,"y":778,"y2":963,"v":1.24},{"x":4244.08,"x2":4243.76,"y":778,"y2":963,"v":1.49},{"x":4243.76,"x2":4242.57,"y":778,"y2":963,"v":1.24},{"x":4242.57,"x2":4241.67,"y":778,"y2":963,"v":0.98},{"x":4241.67,"x2":4241.07,"y":778,"y2":963,"v":1.24},{"x":4241.07,"x2":4240.43,"y":778,"y2":963,"v":1.49},
{"x":4246.48,"x2":4246.17,"y":963,"y2":1176,"v":0.98},{"x":4246.17,"x2":4245.57,"y":963,"y2":1176,"v":1.24},{"x":4245.57,"x2":4243.18,"y":963,"y2":1176,"v":1.49},{"x":4243.18,"x2":4242.86,"y":963,"y2":1176,"v":1.24},{"x":4242.86,"x2":4241.96,"y":963,"y2":1176,"v":0.98},{"x":4241.96,"x2":4241.67,"y":963,"y2":1176,"v":0.73},{"x":4241.67,"x2":4241.07,"y":963,"y2":1176,"v":0.98},{"x":4241.07,"x2":4240.43,"y":963,"y2":1176,"v":1.24},
{"x":4246.48,"x2":4245.88,"y":1176,"y2":1445,"v":1.24},{"x":4245.88,"x2":4245.57,"y":1176,"y2":1445,"v":1.49},{"x":4245.57,"x2":4243.47,"y":1176,"y2":1445,"v":1.74},{"x":4243.47,"x2":4242.86,"y":1176,"y2":1445,"v":1.49},{"x":4242.86,"x2":4242.27,"y":1176,"y2":1445,"v":1.24},{"x":4242.27,"x2":4240.77,"y":1176,"y2":1445,"v":0.98},{"x":4240.77,"x2":4240.43,"y":1176,"y2":1445,"v":1.24},
{"x":4246.48,"x2":4245.88,"y":1445,"y2":1786,"v":1.24},{"x":4245.88,"x2":4245.57,"y":1445,"y2":1786,"v":1.49},{"x":4245.57,"x2":4242.86,"y":1445,"y2":1786,"v":1.74},{"x":4242.86,"x2":4242.27,"y":1445,"y2":1786,"v":1.49},{"x":4242.27,"x2":4241.37,"y":1445,"y2":1786,"v":1.24},{"x":4241.37,"x2":4240.77,"y":1445,"y2":1786,"v":0.98},{"x":4240.77,"x2":4240.43,"y":1445,"y2":1786,"v":1.24},
{"x":4246.48,"x2":4245.88,"y":1786,"y2":2167,"v":1.24},{"x":4245.88,"x2":4245.57,"y":1786,"y2":2167,"v":1.49},{"x":4245.57,"x2":4245.27,"y":1786,"y2":2167,"v":1.74},{"x":4245.27,"x2":4242.86,"y":1786,"y2":2167,"v":2},{"x":4242.86,"x2":4242.27,"y":1786,"y2":2167,"v":1.74},{"x":4242.27,"x2":4241.37,"y":1786,"y2":2167,"v":1.49},{"x":4241.37,"x2":4240.43,"y":1786,"y2":2167,"v":1.24},
{"x":4246.48,"x2":4246.17,"y":2167,"y2":2615,"v":1.24},{"x":4246.17,"x2":4245.88,"y":2167,"y2":2615,"v":1.49},{"x":4245.88,"x2":4245.27,"y":2167,"y2":2615,"v":1.74},{"x":4245.27,"x2":4242.27,"y":2167,"y2":2615,"v":2},{"x":4242.27,"x2":4241.37,"y":2167,"y2":2615,"v":1.74},{"x":4241.37,"x2":4241.07,"y":2167,"y2":2615,"v":1.49},{"x":4241.07,"x2":4240.43,"y":2167,"y2":2615,"v":1.24},
{"x":4246.48,"x2":4246.17,"y":2615,"y2":3108,"v":1.24},{"x":4246.17,"x2":4245.88,"y":2615,"y2":3108,"v":1.49},{"x":4245.88,"x2":4245.57,"y":2615,"y2":3108,"v":1.74},{"x":4245.57,"x2":4244.37,"y":2615,"y2":3108,"v":2},{"x":4244.37,"x2":4242.57,"y":2615,"y2":3108,"v":2.25},{"x":4242.57,"x2":4241.67,"y":2615,"y2":3108,"v":2},{"x":4241.67,"x2":4241.07,"y":2615,"y2":3108,"v":1.74},{"x":4241.07,"x2":4240.43,"y":2615,"y2":3108,"v":1.49},
{"x":4246.48,"x2":4245.88,"y":3108,"y2":3707,"v":1.49},{"x":4245.88,"x2":4245.57,"y":3108,"y2":3707,"v":1.74},{"x":4245.57,"x2":4244.67,"y":3108,"y2":3707,"v":2},{"x":4244.67,"x2":4242.27,"y":3108,"y2":3707,"v":2.25},{"x":4242.27,"x2":4241.37,"y":3108,"y2":3707,"v":2},{"x":4241.37,"x2":4240.77,"y":3108,"y2":3707,"v":1.74},{"x":4240.77,"x2":4240.43,"y":3108,"y2":3707,"v":1.49},
{"x":4246.48,"x2":4246.17,"y":3707,"y2":4407,"v":1.49},{"x":4246.17,"x2":4245.57,"y":3707,"y2":4407,"v":1.74},{"x":4245.57,"x2":4244.67,"y":3707,"y2":4407,"v":2},{"x":4244.67,"x2":4241.96,"y":3707,"y2":4407,"v":2.25},{"x":4241.96,"x2":4241.07,"y":3707,"y2":4407,"v":2},{"x":4241.07,"x2":4240.43,"y":3707,"y2":4407,"v":1.74},
{"x":4246.48,"x2":4245.88,"y":4407,"y2":5191,"v":1.74},{"x":4245.88,"x2":4244.67,"y":4407,"y2":5191,"v":2},{"x":4244.67,"x2":4241.67,"y":4407,"y2":5191,"v":2.25},{"x":4241.67,"x2":4240.77,"y":4407,"y2":5191,"v":2},{"x":4240.77,"x2":4240.43,"y":4407,"y2":5191,"v":1.74},
{"x":4246.48,"x2":4245.88,"y":5191,"y2":6000,"v":1.74},{"x":4245.88,"x2":4244.37,"y":5191,"y2":6000,"v":2},{"x":4244.37,"x2":4241.96,"y":5191,"y2":6000,"v":2.25},{"x":4241.96,"x2":4240.43,"y":5191,"y2":6000,"v":2}
],
"br":[
{"x":741.51,"x2":741.7,"y":0,"y2":84,"v":2.25},{"x":741.7,"x2":743.2,"y":0,"y2":84,"v":2},{"x":743.2,"x2":743.5,"y":0,"y2":84,"v":2.25},{"x":743.5,"x2":744.09,"y":0,"y2":84,"v":2.5},{"x":744.09,"x2":744.69,"y":0,"y2":84,"v":2.76},{"x":744.69,"x2":747.4,"y":0,"y2":84,"v":3.01},{"x":747.4,"x2":748.33,"y":0,"y2":84,"v":2.76},
{"x":741.51,"x2":742.01,"y":84,"y2":162,"v":1.74},{"x":742.01,"x2":742.6,"y":84,"y2":162,"v":1.49},{"x":742.6,"x2":743.5,"y":84,"y2":162,"v":2},{"x":743.5,"x2":743.81,"y":84,"y2":162,"v":2.25},{"x":743.81,"x2":744.69,"y":84,"y2":162,"v":2.5},{"x":744.69,"x2":746.2,"y":84,"y2":162,"v":2.76},{"x":746.2,"x2":747.4,"y":84,"y2":162,"v":3.01},{"x":747.4,"x2":748.33,"y":84,"y2":162,"v":2.76},
{"x":741.51,"x2":741.7,"y":162,"y2":221,"v":1.74},{"x":741.7,"x2":742.6,"y":162,"y2":221,"v":1.24},{"x":742.6,"x2":743.2,"y":162,"y2":221,"v":1.49},{"x":743.2,"x2":743.5,"y":162,"y2":221,"v":1.74},{"x":743.5,"x2":743.81,"y":162,"y2":221,"v":2},{"x":743.81,"x2":744.09,"y":162,"y2":221,"v":2.25},{"x":744.09,"x2":744.69,"y":162,"y2":221,"v":2.5},{"x":744.69,"x2":745.91,"y":162,"y2":221,"v":2.76},{"x":745.91,"x2":747.4,"y":162,"y2":221,"v":3.01},{"x":747.4,"x2":748.33,"y":162,"y2":221,"v":2.76},
{"x":741.51,"x2":741.7,"y":221,"y2":305,"v":1.49},{"x":741.7,"x2":742.01,"y":221,"y2":305,"v":0.98},{"x":742.01,"x2":742.6,"y":221,"y2":305,"v":0.73},{"x":742.6,"x2":742.9,"y":221,"y2":305,"v":0.98},{"x":742.9,"x2":743.2,"y":221,"y2":305,"v":1.24},{"x":743.2,"x2":743.5,"y":221,"y2":305,"v":1.74},{"x":743.5,"x2":744.09,"y":221,"y2":305,"v":2},{"x":744.09,"x2":744.69,"y":221,"y2":305,"v":2.25},{"x":744.69,"x2":745.6,"y":221,"y2":305,"v":2.5},{"x":745.6,"x2":746.2,"y":221,"y2":305,"v":2.76},{"x":746.2,"x2":747.4,"y":221,"y2":305,"v":3.01},{"x":747.4,"x2":747.71,"y":221,"y2":305,"v":2.5},{"x":747.71,"x2":748.33,"y":221,"y2":305,"v":2.25},
{"x":741.51,"x2":741.7,"y":305,"y2":395,"v":1.24},{"x":741.7,"x2":742.01,"y":305,"y2":395,"v":0.73},{"x":742.01,"x2":742.9,"y":305,"y2":395,"v":0.22},{"x":742.9,"x2":743.2,"y":305,"y2":395,"v":0.73},{"x":743.2,"x2":743.5,"y":305,"y2":395,"v":1.24},{"x":743.5,"x2":743.81,"y":305,"y2":395,"v":1.49},{"x":743.81,"x2":744.09,"y":305,"y2":395,"v":1.74},{"x":744.09,"x2":745.01,"y":305,"y2":395,"v":2},{"x":745.01,"x2":745.6,"y":305,"y2":395,"v":2.25},{"x":745.6,"x2":745.91,"y":305,"y2":395,"v":2.5},{"x":745.91,"x2":747.11,"y":305,"y2":395,"v":2.76},{"x":747.11,"x2":747.4,"y":305,"y2":395,"v":2.76},{"x":747.4,"x2":747.71,"y":305,"y2":395,"v":2},{"x":747.71,"x2":748.33,"y":305,"y2":395,"v":1.74},
{"x":741.51,"x2":741.7,"y":395,"y2":491,"v":0.98},{"x":741.7,"x2":742.01,"y":395,"y2":491,"v":0.47},{"x":742.01,"x2":742.9,"y":395,"y2":491,"v":0.22},{"x":742.9,"x2":743.2,"y":395,"y2":491,"v":0.47},{"x":743.2,"x2":743.5,"y":395,"y2":491,"v":0.73},{"x":743.5,"x2":743.81,"y":395,"y2":491,"v":1.24},{"x":743.81,"x2":744.69,"y":395,"y2":491,"v":1.49},{"x":744.69,"x2":745.6,"y":395,"y2":491,"v":1.74},{"x":745.6,"x2":745.91,"y":395,"y2":491,"v":2},{"x":745.91,"x2":746.2,"y":395,"y2":491,"v":2.25},{"x":746.2,"x2":746.8,"y":395,"y2":491,"v":2.5},{"x":746.8,"x2":747.4,"y":395,"y2":491,"v":2.76},{"x":747.4,"x2":747.71,"y":395,"y2":491,"v":1.74},{"x":747.71,"x2":748.33,"y":395,"y2":491,"v":1.49},
{"x":741.51,"x2":741.7,"y":491,"y2":634,"v":0.98},{"x":741.7,"x2":742.01,"y":491,"y2":634,"v":0.47},{"x":742.01,"x2":742.9,"y":491,"y2":634,"v":0.22},{"x":742.9,"x2":743.2,"y":491,"y2":634,"v":0.47},{"x":743.2,"x2":743.5,"y":491,"y2":634,"v":0.73},{"x":743.5,"x2":743.81,"y":491,"y2":634,"v":0.98},{"x":743.81,"x2":744.69,"y":491,"y2":634,"v":1.24},{"x":744.69,"x2":745.6,"y":491,"y2":634,"v":1.49},{"x":745.6,"x2":746.2,"y":491,"y2":634,"v":1.74},{"x":746.2,"x2":747.11,"y":491,"y2":634,"v":2},{"x":747.11,"x2":747.4,"y":491,"y2":634,"v":1.74},{"x":747.4,"x2":747.71,"y":491,"y2":634,"v":1.49},{"x":747.71,"x2":748.01,"y":491,"y2":634,"v":1.24},{"x":748.01,"x2":748.33,"y":491,"y2":634,"v":0.98},
{"x":741.51,"x2":741.7,"y":634,"y2":772,"v":0.98},{"x":741.7,"x2":743.5,"y":634,"y2":772,"v":0.73},{"x":743.5,"x2":744.4,"y":634,"y2":772,"v":0.98},{"x":744.4,"x2":745.01,"y":634,"y2":772,"v":1.24},{"x":745.01,"x2":745.6,"y":634,"y2":772,"v":1.49},{"x":745.6,"x2":746.2,"y":634,"y2":772,"v":1.24},{"x":746.2,"x2":746.8,"y":634,"y2":772,"v":1.49},{"x":746.8,"x2":747.11,"y":634,"y2":772,"v":1.74},{"x":747.11,"x2":747.4,"y":634,"y2":772,"v":1.49},{"x":747.4,"x2":747.71,"y":634,"y2":772,"v":1.24},{"x":747.71,"x2":748.33,"y":634,"y2":772,"v":0.73},
{"x":741.51,"x2":742.3,"y":772,"y2":964,"v":1.24},{"x":742.3,"x2":742.6,"y":772,"y2":964,"v":1.49},{"x":742.6,"x2":742.9,"y":772,"y2":964,"v":1.24},{"x":742.9,"x2":743.81,"y":772,"y2":964,"v":0.98},{"x":743.81,"x2":744.69,"y":772,"y2":964,"v":1.24},{"x":744.69,"x2":745.31,"y":772,"y2":964,"v":1.49},{"x":745.31,"x2":746.8,"y":772,"y2":964,"v":1.24},{"x":746.8,"x2":747.11,"y":772,"y2":964,"v":1.49},{"x":747.11,"x2":747.71,"y":772,"y2":964,"v":1.24},{"x":747.71,"x2":748.01,"y":772,"y2":964,"v":0.98},{"x":748.01,"x2":748.33,"y":772,"y2":964,"v":0.73},
{"x":741.51,"x2":742.3,"y":964,"y2":1179,"v":1.49},{"x":742.3,"x2":742.6,"y":964,"y2":1179,"v":1.74},{"x":742.6,"x2":742.9,"y":964,"y2":1179,"v":1.49},{"x":742.9,"x2":744.09,"y":964,"y2":1179,"v":1.24},{"x":744.09,"x2":745.6,"y":964,"y2":1179,"v":1.49},{"x":745.6,"x2":746.8,"y":964,"y2":1179,"v":1.24},{"x":746.8,"x2":747.4,"y":964,"y2":1179,"v":1.49},{"x":747.4,"x2":748.33,"y":964,"y2":1179,"v":1.24},
{"x":741.51,"x2":742.01,"y":1179,"y2":1442,"v":1.49},{"x":742.01,"x2":742.9,"y":1179,"y2":1442,"v":1.74},{"x":742.9,"x2":744.4,"y":1179,"y2":1442,"v":1.49},{"x":744.4,"x2":745.6,"y":1179,"y2":1442,"v":1.74},{"x":745.6,"x2":747.11,"y":1179,"y2":1442,"v":1.49},{"x":747.11,"x2":747.4,"y":1179,"y2":1442,"v":1.74},{"x":747.4,"x2":748.33,"y":1179,"y2":1442,"v":1.49},
{"x":741.51,"x2":745.91,"y":1442,"y2":1777,"v":1.74},{"x":745.91,"x2":746.51,"y":1442,"y2":1777,"v":1.49},{"x":746.51,"x2":748.01,"y":1442,"y2":1777,"v":1.74},{"x":748.01,"x2":748.33,"y":1442,"y2":1777,"v":2},
{"x":741.51,"x2":742.3,"y":1777,"y2":2160,"v":2},{"x":742.3,"x2":744.09,"y":1777,"y2":2160,"v":1.74},{"x":744.09,"x2":745.6,"y":1777,"y2":2160,"v":2},{"x":745.6,"x2":746.8,"y":1777,"y2":2160,"v":1.74},{"x":746.8,"x2":748.01,"y":1777,"y2":2160,"v":2},{"x":748.01,"x2":748.33,"y":1777,"y2":2160,"v":2.25},
{"x":741.51,"x2":741.7,"y":2160,"y2":2609,"v":2.25},{"x":741.7,"x2":747.4,"y":2160,"y2":2609,"v":2},{"x":747.4,"x2":748.33,"y":2160,"y2":2609,"v":2.25},
{"x":741.51,"x2":742.01,"y":2609,"y2":3106,"v":2.25},{"x":742.01,"x2":746.8,"y":2609,"y2":3106,"v":2},{"x":746.8,"x2":748.01,"y":2609,"y2":3106,"v":2.25},{"x":748.01,"x2":748.33,"y":2609,"y2":3106,"v":2.5},
{"x":741.51,"x2":742.3,"y":3106,"y2":3705,"v":2.25},{"x":742.3,"x2":746.51,"y":3106,"y2":3705,"v":2},{"x":746.51,"x2":747.71,"y":3106,"y2":3705,"v":2.25},{"x":747.71,"x2":748.33,"y":3106,"y2":3705,"v":2.5},
{"x":741.51,"x2":741.7,"y":3705,"y2":4393,"v":2.5},{"x":741.7,"x2":742.6,"y":3705,"y2":4393,"v":2.25},{"x":742.6,"x2":746.2,"y":3705,"y2":4393,"v":2},{"x":746.2,"x2":747.71,"y":3705,"y2":4393,"v":2.25},{"x":747.71,"x2":748.33,"y":3705,"y2":4393,"v":2.5},
{"x":741.51,"x2":742.6,"y":4393,"y2":5183,"v":2.25},{"x":742.6,"x2":746.51,"y":4393,"y2":5183,"v":2},{"x":746.51,"x2":748.01,"y":4393,"y2":5183,"v":2.25},{"x":748.01,"x2":748.33,"y":4393,"y2":5183,"v":2.5},
{"x":741.51,"x2":742.6,"y":5183,"y2":6000,"v":2.25},{"x":742.6,"x2":746.8,"y":5183,"y2":6000,"v":2},{"x":746.8,"x2":748.33,"y":5183,"y2":6000,"v":2.25}
],
"blGrid":[
{"x":4246.17,"x2":4246.17,"y":0,"y2":6000},{"x":4245.88,"x2":4245.88,"y":0,"y2":6000},{"x":4245.57,"x2":4245.57,"y":0,"y2":6000},{"x":4245.27,"x2":4245.27,"y":0,"y2":6000},{"x":4244.97,"x2":4244.97,"y":0,"y2":6000},{"x":4244.67,"x2":4244.67,"y":0,"y2":6000},{"x":4244.37,"x2":4244.37,"y":0,"y2":6000},{"x":4244.08,"x2":4244.08,"y":0,"y2":6000},{"x":4243.76,"x2":4243.76,"y":0,"y2":6000},{"x":4243.47,"x2":4243.47,"y":0,"y2":6000},{"x":4243.18,"x2":4243.18,"y":0,"y2":6000},{"x":4242.86,"x2":4242.86,"y":0,"y2":6000},{"x":4242.57,"x2":4242.57,"y":0,"y2":6000},{"x":4242.27,"x2":4242.27,"y":0,"y2":6000},{"x":4241.96,"x2":4241.96,"y":0,"y2":6000},{"x":4241.67,"x2":4241.67,"y":0,"y2":6000},{"x":4241.37,"x2":4241.37,"y":0,"y2":6000},{"x":4241.07,"x2":4241.07,"y":0,"y2":6000},{"x":4240.77,"x2":4240.77,"y":0,"y2":6000},
{"x":4246.48,"x2":4240.43,"y":67,"y2":67},{"x":4246.48,"x2":4240.43,"y":140,"y2":140},{"x":4246.48,"x2":4240.43,"y":207,"y2":207},{"x":4246.48,"x2":4240.43,"y":302,"y2":302},{"x":4246.48,"x2":4240.43,"y":403,"y2":403},{"x":4246.48,"x2":4240.43,"y":504,"y2":504},{"x":4246.48,"x2":4240.43,"y":627,"y2":627},{"x":4246.48,"x2":4240.43,"y":778,"y2":778},{"x":4246.48,"x2":4240.43,"y":963,"y2":963},{"x":4246.48,"x2":4240.43,"y":1176,"y2":1176},{"x":4246.48,"x2":4240.43,"y":1445,"y2":1445},{"x":4246.48,"x2":4240.43,"y":1786,"y2":1786},{"x":4246.48,"x2":4240.43,"y":2167,"y2":2167},{"x":4246.48,"x2":4240.43,"y":2615,"y2":2615},{"x":4246.48,"x2":4240.43,"y":3108,"y2":3108},{"x":4246.48,"x2":4240.43,"y":3707,"y2":3707},{"x":4246.48,"x2":4240.43,"y":4407,"y2":4407},{"x":4246.48,"x2":4240.43,"y":5191,"y2":5191},
{"x":4246.17,"x2":4244.83,"y":1803,"y2":6000},{"x":4245.56,"x2":4244.21,"y":1803,"y2":6000},{"x":4244.97,"x2":4243.62,"y":1803,"y2":6000},{"x":4244.35,"x2":4243.01,"y":1803,"y2":6000},{"x":4243.76,"x2":4242.42,"y":1803,"y2":6000},{"x":4243.18,"x2":4241.83,"y":1803,"y2":6000},{"x":4242.56,"x2":4241.22,"y":1803,"y2":6000},{"x":4241.97,"x2":4240.63,"y":1803,"y2":6000}
],
"brGrid":[
{"x":741.7,"x2":741.7,"y":0,"y2":6000},{"x":742.01,"x2":742.01,"y":0,"y2":6000},{"x":742.3,"x2":742.3,"y":0,"y2":6000},{"x":742.6,"x2":742.6,"y":0,"y2":6000},{"x":742.9,"x2":742.9,"y":0,"y2":6000},{"x":743.2,"x2":743.2,"y":0,"y2":6000},{"x":743.5,"x2":743.5,"y":0,"y2":6000},{"x":743.81,"x2":743.81,"y":0,"y2":6000},{"x":744.09,"x2":744.09,"y":0,"y2":6000},{"x":744.4,"x2":744.4,"y":0,"y2":6000},{"x":744.69,"x2":744.69,"y":0,"y2":6000},{"x":745.01,"x2":745.01,"y":0,"y2":6000},{"x":745.31,"x2":745.31,"y":0,"y2":6000},{"x":745.6,"x2":745.6,"y":0,"y2":6000},{"x":745.91,"x2":745.91,"y":0,"y2":6000},{"x":746.2,"x2":746.2,"y":0,"y2":6000},{"x":746.51,"x2":746.51,"y":0,"y2":6000},{"x":746.8,"x2":746.8,"y":0,"y2":6000},{"x":747.11,"x2":747.11,"y":0,"y2":6000},{"x":747.4,"x2":747.4,"y":0,"y2":6000},{"x":747.71,"x2":747.71,"y":0,"y2":6000},{"x":748.01,"x2":748.01,"y":0,"y2":6000},
{"x":741.51,"x2":748.33,"y":84,"y2":84},{"x":741.51,"x2":748.33,"y":162,"y2":162},{"x":741.51,"x2":748.33,"y":221,"y2":221},{"x":741.51,"x2":748.33,"y":305,"y2":305},{"x":741.51,"x2":748.33,"y":395,"y2":395},{"x":741.51,"x2":748.33,"y":491,"y2":491},{"x":741.51,"x2":748.33,"y":634,"y2":634},{"x":741.51,"x2":748.33,"y":772,"y2":772},{"x":741.51,"x2":748.33,"y":964,"y2":964},{"x":741.51,"x2":748.33,"y":1179,"y2":1179},{"x":741.51,"x2":748.33,"y":1442,"y2":1442},{"x":741.51,"x2":748.33,"y":1777,"y2":1777},{"x":741.51,"x2":748.33,"y":2160,"y2":2160},{"x":741.51,"x2":748.33,"y":2609,"y2":2609},{"x":741.51,"x2":748.33,"y":3106,"y2":3106},{"x":741.51,"x2":748.33,"y":3705,"y2":3705},{"x":741.51,"x2":748.33,"y":4393,"y2":4393},{"x":741.51,"x2":748.33,"y":5183,"y2":5183},
{"x":741.7,"x2":742.9,"y":2180,"y2":6000},{"x":742.3,"x2":743.5,"y":2180,"y2":6000},{"x":742.9,"x2":744.1,"y":2180,"y2":6000},{"x":743.5,"x2":744.7,"y":2180,"y2":6000},{"x":744.1,"x2":745.3,"y":2180,"y2":6000},{"x":744.7,"x2":745.9,"y":2180,"y2":6000},{"x":745.31,"x2":746.51,"y":2180,"y2":6000},{"x":745.91,"x2":747.11,"y":2180,"y2":6000},{"x":746.51,"x2":747.71,"y":2180,"y2":6000},{"x":747.11,"x2":748.31,"y":2180,"y2":6000}
],
"blTri":[{"x":4245.86,"y":30},{"x":4245.23,"y":30},{"x":4244.92,"y":30},{"x":4243.55,"y":30},{"x":4243.46,"y":30},{"x":4243.34,"y":30},{"x":4243.23,"y":30},{"x":4243.04,"y":30},{"x":4242.95,"y":30},{"x":4242.46,"y":30},{"x":4241.94,"y":30},{"x":4241.83,"y":30},{"x":4241.69,"y":30},{"x":4241.09,"y":30}],
"brTri":[{"x":741.96,"y":30},{"x":742.15,"y":30},{"x":742.77,"y":30},{"x":743.08,"y":30},{"x":743.58,"y":30},{"x":744.01,"y":30},{"x":744.9,"y":30},{"x":745.14,"y":30},{"x":745.55,"y":30},{"x":745.59,"y":30},{"x":746.21,"y":30},{"x":746.86,"y":30},{"x":746.96,"y":30},{"x":747.58,"y":30},{"x":748.03,"y":30}],
"blArrow":[{"x":4245.23,"y":-90},{"x":4242.95,"y":-90},{"x":4241.83,"y":-90}],
"brArrow":[{"x":742.15,"y":-96},{"x":743.08,"y":-96},{"x":745.14,"y":-96},{"x":746.21,"y":-96},{"x":748.03,"y":-96}],
"blLab":[{"x":4245.23,"y":-370,"t":"201"},{"x":4242.95,"y":-370,"t":"205"},{"x":4241.77,"y":-370,"t":"206"}],
"brLab":[{"x":742.12,"y":-425,"t":"18"},{"x":743.11,"y":-405,"t":"17"},{"x":745.17,"y":-365,"t":"209"},{"x":746.25,"y":-405,"t":"203"},{"x":748.01,"y":-405,"t":"204"}]
},
"resolve":{"scale":{"x":"independent","y":"independent","color":"independent"},"axis":{"x":"independent","y":"independent"}},
"layer":[
{"data":{"values":[{"x":0.3,"y":0.56,"t":"Archive"}]},"mark":{"type":"text","angle":-40,"font":"Liberation Serif","fontStyle":"italic","fontWeight":"bold","fontSize":175,"color":"#c8c8c8","align":"center","baseline":"middle"},"encoding":{"x":{"field":"x","type":"quantitative","scale":{"domain":[0,1],"range":[0,950]},"axis":null},"y":{"field":"y","type":"quantitative","scale":{"domain":[0,1],"range":[0,1124]},"axis":null},"text":{"field":"t"}}},
{"data":{"values":[{"x":0.87,"y":0.059,"t":"o"}]},"mark":{"type":"text","angle":-40,"font":"Liberation Serif","fontStyle":"italic","fontWeight":"bold","fontSize":290,"color":"#c8c8c8","align":"center","baseline":"middle"},"encoding":{"x":{"field":"x","type":"quantitative","scale":{"domain":[0,1],"range":[0,950]},"axis":null},"y":{"field":"y","type":"quantitative","scale":{"domain":[0,1],"range":[0,1124]},"axis":null},"text":{"field":"t"}}},
{"encoding":{"x":{"field":"x","type":"quantitative","scale":{"domain":[0,4.49],"range":[84,439],"nice":false,"zero":false},"axis":{"values":[0,1,2,3,4],"format":"d","orient":"bottom","offset":-728,"title":"Distance along profile (km)","titleX":256,"titleY":39,"titleBaseline":"middle","titleFont":"Lato","titleFontSize":17,"titleFontWeight":"bold","titleColor":"#111","labelFont":"Lato","labelFontSize":16,"labelFontWeight":"bold","labelColor":"#111","labelPadding":11,"tickSize":4,"tickColor":"#333","domainColor":"#333","domainWidth":1.5}},"y":{"field":"y","type":"quantitative","stack":null,"scale":{"domain":[-2000,4128],"range":[396,60],"nice":false,"zero":false},"axis":{"values":[-2000,-1000,0,1000,2000,3000,4000],"labelExpr":"''+datum.value","orient":"left","offset":-84,"title":"Elevation (m.a.s.l)","titleX":-62,"titleY":203,"titleBaseline":"middle","titleFont":"Lato","titleFontSize":17,"titleFontWeight":"bold","titleColor":"#111","labelFont":"Lato","labelFontSize":16,"labelFontWeight":"bold","labelColor":"#111","labelPadding":10,"tickSize":4,"tickColor":"#333","domainColor":"#333","domainWidth":1.5}}},
"layer":[
{"data":{"name":"tl"},"mark":{"type":"area","interpolate":"monotone","stroke":"#2a3a2a","strokeWidth":0.7},"encoding":{"y2":{"field":"z"},"detail":{"field":"s","type":"nominal"},"color":{"field":"b","type":"ordinal","legend":null,"scale":{"domain":[5,10,20,30,50,70,100,120,150,180,200,250,300,400,500,700],"range":["#ff0000","#ff5010","#ff9a1e","#ffd700","#d0f500","#96f01e","#5ae61e","#1eee1e","#00f060","#14f0a0","#00f8f0","#1eaaf0","#1478f0","#0a30f0","#2a14e0","#8214f0"]}}}},
{"data":{"name":"tlDash"},"mark":{"type":"line","stroke":"white","strokeWidth":5,"strokeDash":[16,13]},"encoding":{"detail":{"field":"s","type":"nominal"}}},
{"data":{"name":"tlLab"},"mark":{"type":"text","font":"Lato","fontSize":8,"color":"#333"},"encoding":{"text":{"field":"t"}}},
{"data":{"name":"tlBold"},"mark":{"type":"text","font":"Lato","fontWeight":"bold","fontSize":16,"color":"#111"},"encoding":{"text":{"field":"t"}}},
{"data":{"name":"tlProf"},"mark":{"type":"text","font":"Lato","fontSize":16,"color":"#444"},"encoding":{"text":{"field":"t"}}},
{"data":{"name":"tlTri"},"mark":{"type":"point","shape":"triangle-down","filled":true,"size":30,"color":"#111","opacity":1}},
{"data":{"values":[{"x":0,"x2":4.49,"y":-2000,"y2":4128}]},"mark":{"type":"rect","fillOpacity":0,"stroke":"#333","strokeWidth":1.5},"encoding":{"x2":{"field":"x2"},"y2":{"field":"y2"}}}
]},
{"encoding":{"x":{"field":"x","type":"quantitative","scale":{"domain":[0,7],"range":[563,950],"nice":false,"zero":false},"axis":{"values":[0,1,2,3,4,5,6,7],"format":"d","orient":"bottom","offset":-734,"title":"Distance along profile (km)","titleX":750,"titleY":31,"titleBaseline":"middle","titleFont":"Lato","titleFontSize":16,"titleFontWeight":"bold","titleColor":"#111","labelFont":"Lato","labelFontSize":15,"labelFontWeight":"bold","labelColor":"#111","labelPadding":6,"tickSize":3,"tickColor":"#333","domainColor":"#333","domainWidth":1.5}},"y":{"field":"y","type":"quantitative","stack":null,"scale":{"domain":[-3000,4113],"range":[390,56],"nice":false,"zero":false},"axis":{"values":[-3000,-2000,-1000,0,1000,2000,3000,4000],"labelExpr":"''+datum.value","orient":"left","offset":-563,"title":"Elevation (m.a.s.l)","titleX":-59,"titleY":230,"titleBaseline":"middle","titleFont":"Lato","titleFontSize":16,"titleFontWeight":"bold","titleColor":"#111","labelFont":"Lato","labelFontSize":15,"labelFontWeight":"bold","labelColor":"#111","labelPadding":4,"tickSize":3,"tickColor":"#333","domainColor":"#333","domainWidth":1.5}}},
"layer":[
{"data":{"name":"tr"},"mark":{"type":"area","interpolate":"monotone","stroke":"#2a3a2a","strokeWidth":0.7},"encoding":{"y2":{"field":"z"},"detail":{"field":"s","type":"nominal"},"color":{"field":"b","type":"ordinal","legend":null,"scale":{"domain":[5,10,20,30,50,70,100,120,150,180,200,250,300,400,500,700],"range":["#ff0000","#ff5010","#ff9a1e","#ffd700","#d0f500","#96f01e","#5ae61e","#1eee1e","#00f060","#14f0a0","#00f8f0","#1eaaf0","#1478f0","#0a30f0","#2a14e0","#8214f0"]}}}},
{"data":{"name":"trDash"},"mark":{"type":"line","stroke":"white","strokeWidth":5,"strokeDash":[16,13]},"encoding":{"detail":{"field":"s","type":"nominal"}}},
{"data":{"name":"trLab"},"mark":{"type":"text","font":"Lato","fontSize":8,"color":"#333"},"encoding":{"text":{"field":"t"}}},
{"data":{"name":"trBold"},"mark":{"type":"text","font":"Lato","fontWeight":"bold","fontSize":15,"color":"#111"},"encoding":{"text":{"field":"t"}}},
{"data":{"name":"trProf"},"mark":{"type":"text","font":"Lato","fontSize":15,"color":"#444"},"encoding":{"text":{"field":"t"}}},
{"data":{"name":"trTri"},"mark":{"type":"point","shape":"triangle-down","filled":true,"size":26,"color":"#111","opacity":1}},
{"data":{"values":[{"x":0,"x2":7,"y":-3000,"y2":4113}]},"mark":{"type":"rect","fillOpacity":0,"stroke":"#333","strokeWidth":1.5},"encoding":{"x2":{"field":"x2"},"y2":{"field":"y2"}}}
]},
{"data":{"name":"bar"},"mark":{"type":"rect"},"encoding":{"x":{"field":"x","type":"quantitative","scale":{"domain":[0,16],"range":[95,432],"nice":false,"zero":false},"axis":{"values":[1,3,5,7,9,11,13,15],"labelExpr":"datum.value==1?'5':datum.value==3?'20':datum.value==5?'50':datum.value==7?'100':datum.value==9?'150':datum.value==11?'200':datum.value==13?'300':'500'","orient":"bottom","offset":-653,"title":"Resistivity (Ohm-m)","titleX":263,"titleY":30,"titleBaseline":"middle","titleFont":"Lato","titleFontSize":14,"titleFontWeight":"normal","titleColor":"#444","labelFont":"Lato","labelFontSize":15,"labelColor":"#444","labelPadding":3,"tickSize":4,"tickColor":"#444","domain":false}},"x2":{"field":"x2"},"y":{"datum":0,"type":"quantitative","scale":{"domain":[0,1],"range":[471,450]},"axis":null},"y2":{"datum":1},"color":{"field":"b","type":"ordinal","legend":null,"scale":{"domain":[5,10,20,30,50,70,100,120,150,180,200,250,300,400,500,700],"range":["#ff0000","#ff5010","#ff9a1e","#ffd700","#d0f500","#96f01e","#5ae61e","#1eee1e","#00f060","#14f0a0","#00f8f0","#1eaaf0","#1478f0","#0a30f0","#2a14e0","#8214f0"]}}}},
{"data":{"name":"bar"},"mark":{"type":"rect"},"encoding":{"x":{"field":"x","type":"quantitative","scale":{"domain":[0,16],"range":[605,911],"nice":false,"zero":false},"axis":{"values":[1,3,5,7,9,11,13,15],"labelExpr":"datum.value==1?'5':datum.value==3?'20':datum.value==5?'50':datum.value==7?'100':datum.value==9?'150':datum.value==11?'200':datum.value==13?'300':'500'","orient":"bottom","offset":-669,"title":"Resistivity (Ohm-m)","titleX":758,"titleY":28,"titleBaseline":"middle","titleFont":"Lato","titleFontSize":13,"titleFontWeight":"normal","titleColor":"#444","labelFont":"Lato","labelFontSize":14,"labelColor":"#444","labelPadding":3,"tickSize":4,"tickColor":"#444","domain":false}},"x2":{"field":"x2"},"y":{"datum":0,"type":"quantitative","scale":{"domain":[0,1],"range":[455,436]},"axis":null},"y2":{"datum":1},"color":{"field":"b","type":"ordinal","legend":null,"scale":{"domain":[5,10,20,30,50,70,100,120,150,180,200,250,300,400,500,700],"range":["#ff0000","#ff5010","#ff9a1e","#ffd700","#d0f500","#96f01e","#5ae61e","#1eee1e","#00f060","#14f0a0","#00f8f0","#1eaaf0","#1478f0","#0a30f0","#2a14e0","#8214f0"]}}}},
{"encoding":{"x":{"field":"x","type":"quantitative","scale":{"domain":[4246.48,4240.43],"range":[82,442],"nice":false,"zero":false},"axis":{"values":[4245,4243,4241],"format":"d","orient":"bottom","offset":-167,"title":"Northing (km)","titleX":259,"titleY":40,"titleBaseline":"middle","titleFont":"Liberation Sans","titleFontSize":19,"titleFontWeight":"normal","titleColor":"#111","labelFont":"Liberation Sans","labelFontSize":19,"labelColor":"#111","labelPadding":5,"tickSize":0,"domain":false}},"y":{"field":"y","type":"quantitative","scale":{"domain":[0,6000],"range":[600,957],"nice":false,"zero":false},"axis":{"values":[0,1000,2000,3000,4000,5000,6000],"format":"d","orient":"left","offset":-82,"title":"Depth (m)","titleX":-68,"titleY":778,"titleBaseline":"middle","titleFont":"Liberation Sans","titleFontSize":19,"titleFontWeight":"normal","titleColor":"#111","labelFont":"Liberation Sans","labelFontSize":19,"labelColor":"#111","labelPadding":5,"tickSize":0,"domain":false}}},
"layer":[
{"data":{"name":"bl"},"mark":{"type":"rect"},"encoding":{"x2":{"field":"x2"},"y2":{"field":"y2"},"color":{"field":"v","type":"quantitative","legend":null,"scale":{"type":"quantize","domain":[-0.16,3.14],"range":["#800000","#d70000","#ff2a00","#ff8000","#ffd500","#d4ff2a","#80ff80","#2affd4","#00d4ff","#0080ff","#002aff","#0000d7","#000090"]}}}},
{"data":{"name":"blGrid"},"mark":{"type":"rule","stroke":"white","strokeWidth":0.7,"strokeOpacity":0.22},"encoding":{"x2":{"field":"x2"},"y2":{"field":"y2"}}},
{"data":{"name":"blTri"},"mark":{"type":"point","shape":"triangle-down","filled":true,"size":40,"color":"black","opacity":1}},
{"data":{"name":"blArrow"},"mark":{"type":"point","shape":"M0,1 L-0.74,-0.9 L-0.06,-0.15 L-0.06,-1.4 L0.06,-1.4 L0.06,-0.15 L0.74,-0.9 Z","filled":true,"size":360,"color":"black","opacity":1}},
{"data":{"name":"blLab"},"mark":{"type":"text","font":"Liberation Sans","fontSize":16,"color":"#111"},"encoding":{"text":{"field":"t"}}}
]},
{"encoding":{"x":{"field":"x","type":"quantitative","scale":{"domain":[741.51,748.33],"range":[572,950],"nice":false,"zero":false},"axis":{"values":[742,744,746,748],"format":"d","orient":"bottom","offset":-191,"title":"Easting (km)","titleX":763,"titleY":40,"titleBaseline":"middle","titleFont":"Liberation Sans","titleFontSize":19,"titleFontWeight":"normal","titleColor":"#111","labelFont":"Liberation Sans","labelFontSize":19,"labelColor":"#111","labelPadding":5,"tickSize":0,"domain":false}},"y":{"field":"y","type":"quantitative","scale":{"domain":[0,6000],"range":[599,933],"nice":false,"zero":false},"axis":{"values":[0,1000,2000,3000,4000,5000,6000],"format":"d","orient":"left","offset":-572,"title":"Depth (m)","titleX":-68,"titleY":766,"titleBaseline":"middle","titleFont":"Liberation Sans","titleFontSize":19,"titleFontWeight":"normal","titleColor":"#111","labelFont":"Liberation Sans","labelFontSize":19,"labelColor":"#111","labelPadding":5,"tickSize":0,"domain":false}}},
"layer":[
{"data":{"name":"br"},"mark":{"type":"rect"},"encoding":{"x2":{"field":"x2"},"y2":{"field":"y2"},"color":{"field":"v","type":"quantitative","legend":null,"scale":{"type":"quantize","domain":[-0.16,3.14],"range":["#800000","#d70000","#ff2a00","#ff8000","#ffd500","#d4ff2a","#80ff80","#2affd4","#00d4ff","#0080ff","#002aff","#0000d7","#000090"]}}}},
{"data":{"name":"brGrid"},"mark":{"type":"rule","stroke":"white","strokeWidth":0.7,"strokeOpacity":0.22},"encoding":{"x2":{"field":"x2"},"y2":{"field":"y2"}}},
{"data":{"name":"brTri"},"mark":{"type":"point","shape":"triangle-down","filled":true,"size":40,"color":"black","opacity":1}},
{"data":{"name":"brArrow"},"mark":{"type":"point","shape":"M0,1 L-0.74,-0.9 L-0.06,-0.15 L-0.06,-1.4 L0.06,-1.4 L0.06,-0.15 L0.74,-0.9 Z","filled":true,"size":360,"color":"black","opacity":1}},
{"data":{"name":"brLab"},"mark":{"type":"text","font":"Liberation Sans","fontSize":16,"color":"#111"},"encoding":{"text":{"field":"t"}}}
]},
{"data":{"name":"logBar"},"mark":{"type":"rect"},"encoding":{"x":{"field":"x","type":"quantitative","scale":{"domain":[-0.16,3.14],"range":[305,658],"nice":false,"zero":false},"axis":{"values":[0,1,2,3],"format":"d","orient":"bottom","offset":-55,"title":"Log Resistivity (Ohm-m)","titleX":502,"titleY":45,"titleBaseline":"middle","titleFont":"Liberation Sans","titleFontSize":21,"titleFontWeight":"normal","titleColor":"#111","labelFont":"Liberation Sans","labelFontSize":19,"labelColor":"#111","labelPadding":9,"tickSize":0,"domain":false}},"x2":{"field":"x2"},"y":{"datum":0,"type":"quantitative","scale":{"domain":[0,1],"range":[1069,1025]},"axis":null},"y2":{"datum":1},"color":{"field":"v","type":"quantitative","legend":null,"scale":{"type":"quantize","domain":[-0.16,3.14],"range":["#800000","#d70000","#ff2a00","#ff8000","#ffd500","#d4ff2a","#80ff80","#2affd4","#00d4ff","#0080ff","#002aff","#0000d7","#000090"]}}}},
{"data":{"values":[{"x":-0.16,"x2":3.14}]},"mark":{"type":"rect","fillOpacity":0,"stroke":"#111","strokeWidth":1.5},"encoding":{"x":{"field":"x","type":"quantitative","scale":{"domain":[-0.16,3.14],"range":[305,658]},"axis":null},"x2":{"field":"x2"},"y":{"datum":0,"type":"quantitative","scale":{"domain":[0,1],"range":[1069,1025]},"axis":null},"y2":{"datum":1}}}
]}
